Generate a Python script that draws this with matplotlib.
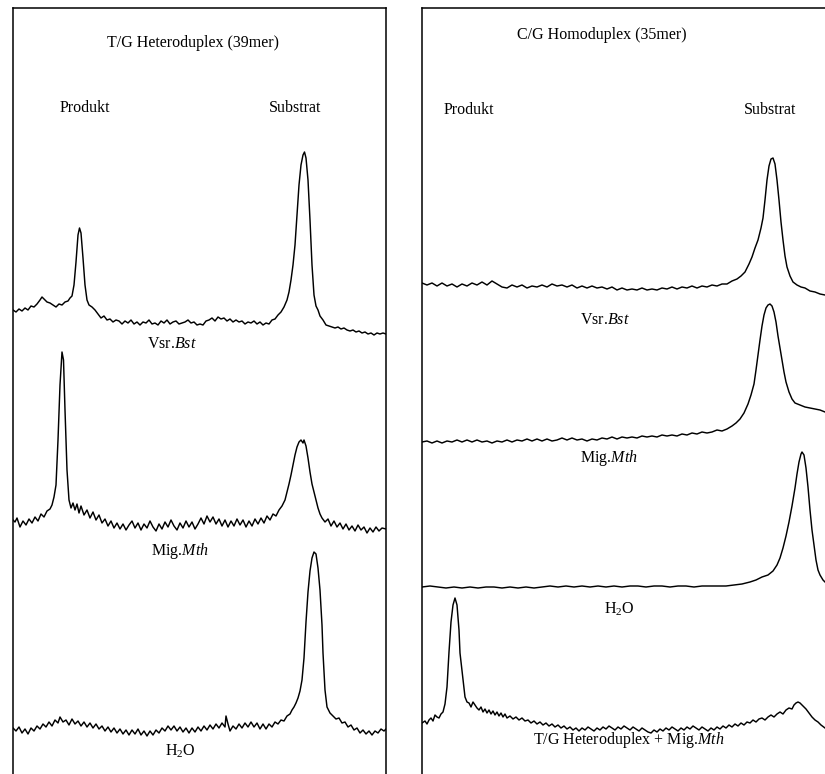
import numpy as np
import matplotlib
matplotlib.use("Agg")
import matplotlib.pyplot as plt

plt.rcParams['font.family'] = ['Liberation Serif', 'DejaVu Serif']
plt.rcParams['mathtext.fontset'] = 'custom'
plt.rcParams['mathtext.rm'] = 'Liberation Serif'
plt.rcParams['mathtext.it'] = 'Liberation Serif:italic'

# chromatogram traces: (scan, signal above baseline)
# left panel: T/G heteroduplex (39mer)
tg_vsr = [(0,10),(3,8),(6,11),(9,9),(12,12),(15,10),(18,14),(21,13),(24,16),(27,20),(29,23),(31,21),
          (34,18),(37,17),(40,15),(43,13),(46,16),(49,15),(52,18),(55,19),(57,22),(59,24),(61,35),(63,58),
          (65,85),(66.5,92),(68,87),(70,62),(72,35),(74,20),(76,15),(79,13),(82,10),(85,6),(88,2),(91,4),
          (94,0),(97,1),(100,-2),(103,0),(106,-1),(109,-4),(112,-1),(115,-3),(118,0),(121,-4),(124,-2),
          (127,-5),(130,-2),(133,-3),(136,0),(139,-4),(142,-3),(145,-5),(148,-1),(151,-3),(154,0),(157,-4),
          (160,-2),(163,-1),(166,-4),(169,-3),(172,-2),(175,0),(178,-3),(181,-2),(184,-5),(187,-4),(190,-5),
          (193,-1),(196,0),(199,2),(202,-1),(205,3),(208,1),(211,2),(214,-1),(217,1),(220,-2),(223,0),
          (226,-2),(229,-1),(232,-4),(235,-2),(238,-3),(241,-1),(244,-4),(247,-2),(250,-5),(253,-3),(256,-4),
          (259,0),(262,1),(265,5),(268,8),(271,13),(274,20),(276,28),(278,40),(280,55),(282,75),(284,105),
          (286,135),(288,155),(290,165),(291.5,168),(293,162),(295,140),(297,100),(299,55),(301,25),(303,14),
          (305,10),(307,4),(310,0),(313,-5),(316,-6),(319,-7),(322,-8),(325,-7),(328,-9),(331,-8),(334,-10),
          (337,-11),(340,-10),(343,-12),(346,-11),(349,-13),(352,-12),(355,-14),(358,-13),(361,-15),(364,-13),
          (367,-14),(370,-13),(373,-14)]

tg_mig = [(0,5),(2,3),(4,7),(7,-2),(10,4),(13,0),(16,6),(19,2),(22,8),(25,4),(28,11),(31,8),(34,14),(37,16),
          (39,20),(41,28),(43,40),(45,85),(47,140),(49,173),(50.5,165),(52,115),(54,55),(56,25),(58,17),(60,22),
          (62,15),(64,21),(66,12),(68,19),(71,10),(74,15),(77,7),(80,13),(83,5),(86,10),(89,2),(92,6),(95,-1),
          (98,4),(101,-3),(104,2),(107,-4),(110,1),(113,-5),(116,0),(119,4),(122,-3),(125,2),(128,-5),(131,1),
          (134,-3),(137,4),(140,-2),(143,-6),(146,1),(149,-4),(152,3),(155,-2),(158,5),(161,-1),(164,-5),
          (167,2),(170,-3),(173,4),(176,-2),(179,3),(182,-4),(185,1),(188,7),(191,1),(194,9),(197,3),(200,8),
          (203,1),(206,6),(209,-1),(212,5),(215,-2),(218,4),(221,-1),(224,6),(227,0),(230,5),(233,-2),(236,4),
          (239,-1),(242,6),(245,1),(248,7),(251,2),(254,9),(257,5),(260,11),(263,9),(266,15),(269,19),(272,25),
          (274,33),(276,41),(278,50),(280,60),(282,70),(284,78),(286,83),(288,85),(290,82),(291,85),(293,79),
          (295,67),(297,53),(299,41),(301,33),(303,25),(305,17),(307,11),(309,7),(312,3),(315,6),(318,-1),
          (321,4),(324,-2),(327,2),(330,-4),(333,1),(336,-5),(339,-1),(342,-6),(345,0),(348,-5),(351,-2),
          (354,-8),(357,-3),(360,-7),(363,-2),(366,-6),(369,-3),(373,-4)]

tg_h2o = [(0,0),(3,-3),(6,1),(9,-5),(12,-1),(15,-6),(18,0),(21,-3),(24,2),(27,-1),(30,4),(33,1),(36,6),(39,2),
          (42,8),(45,5),(47,11),(50,6),(53,8),(56,3),(59,9),(62,4),(65,7),(68,2),(71,6),(74,1),(77,5),(80,0),
          (83,4),(86,-1),(89,2),(92,-3),(95,1),(98,-4),(101,0),(104,-5),(107,-1),(110,-6),(113,-2),(116,-7),
          (119,-2),(122,-6),(125,-1),(128,-7),(131,-3),(134,-8),(137,-3),(140,-7),(143,-2),(146,-5),(149,0),
          (152,-3),(155,2),(158,-2),(161,2),(164,-3),(167,1),(170,-4),(173,0),(176,-5),(179,0),(182,-4),(185,1),
          (188,-3),(191,2),(194,-2),(197,3),(200,-1),(203,4),(206,0),(209,5),(212,1),(213,12),(215,4),(217,-3),
          (220,2),(223,-1),(226,4),(229,0),(232,5),(235,1),(238,6),(241,1),(244,5),(247,-1),(250,4),(253,-1),
          (256,4),(259,1),(262,6),(265,4),(268,8),(271,7),(274,12),(277,14),(279,18),(281,21),(283,25),(285,30),
          (287,37),(289,48),(291,70),(293,106),(295,136),(297,157),(299,170),(301,176),(303,174),(305,160),
          (307,138),(309,103),(310,75),(312,38),(314,21),(317,15),(320,12),(323,9),(326,10),(329,5),(332,6),
          (335,1),(338,3),(341,-2),(344,0),(347,-5),(350,-2),(353,-6),(356,-3),(359,-7),(362,-3),(365,-5),
          (368,-1),(371,-3),(373,-1)]

# right panel: C/G homoduplex (35mer)
cg_vsr = [(0,2),(5,0),(10,2),(15,-1),(20,2),(25,-1),(30,1),(35,-2),(40,1),(45,-1),(50,2),(55,0),(60,3),(65,0),
          (70,4),(75,1),(80,-2),(85,-3),(90,0),(95,-2),(100,0),(105,-3),(110,-1),(115,-2),(120,0),(125,-2),
          (130,1),(135,-1),(140,0),(145,-2),(150,0),(155,-3),(160,-1),(165,-3),(170,-1),(175,-3),(180,-2),
          (185,-4),(190,-2),(195,-5),(200,-3),(205,-5),(210,-4),(215,-5),(220,-3),(225,-5),(230,-4),(235,-5),
          (240,-3),(245,-4),(250,-2),(255,-4),(260,-2),(265,-3),(270,-1),(275,-3),(280,-1),(285,-2),(290,0),
          (295,-1),(300,1),(305,1),(310,4),(315,6),(319,9),(323,13),(327,21),(330,28),(333,37),(336,45),
          (339,57),(341,67),(343,85),(345,105),(347,119),(349,126),(351,127),(353,121),(355,105),(357,85),
          (359,63),(361,45),(363,29),(365,18),(368,9),(371,3),(375,0),(379,-2),(383,-3),(388,-6),(393,-7),
          (398,-9),(403,-10)]

cg_mig = [(0,-2),(5,-1),(10,-3),(15,-1),(20,-3),(25,-1),(30,-2),(35,0),(40,-2),(45,0),(50,-2),(55,0),(60,-2),
          (65,-1),(70,-3),(75,-1),(80,-2),(85,0),(90,-2),(95,0),(100,-1),(105,1),(110,-1),(115,1),(120,-1),
          (125,1),(130,-1),(135,0),(140,2),(145,0),(150,2),(155,0),(160,1),(165,-1),(170,1),(175,0),(180,2),
          (185,1),(190,3),(195,1),(200,3),(205,2),(210,3),(215,2),(220,4),(225,3),(230,4),(235,3),(240,5),
          (245,4),(250,5),(255,4),(260,6),(265,5),(270,7),(275,6),(280,8),(285,7),(290,8),(295,10),(300,9),
          (305,11),(310,14),(314,17),(318,21),(322,27),(326,36),(329,45),(332,56),(334,70),(336,85),(338,100),
          (340,114),(342,125),(344,132),(346,135),(348,136),(350,134),(352,128),(354,118),(356,104),(358,92),
          (360,80),(362,68),(364,58),(367,48),(370,41),(373,37),(378,35),(383,33),(388,32),(393,31),(398,30),
          (403,28)]

cg_h2o = [(0,-1),(8,0),(16,-1),(24,-2),(32,-1),(40,-2),(48,-1),(56,-2),(64,-1),(72,-1),(80,-2),(88,-1),
          (96,-2),(104,-1),(112,-2),(120,-1),(128,0),(136,-1),(144,0),(152,-1),(160,0),(168,-1),(176,0),
          (184,-1),(192,0),(200,-1),(208,0),(216,0),(224,-1),(232,0),(240,0),(248,-1),(256,0),(264,0),
          (272,-1),(280,0),(288,0),(296,0),(304,0),(312,1),(320,2),(328,4),(334,6),(340,9),(346,11),(351,15),
          (355,21),(358,28),(361,38),(364,50),(367,64),(370,80),(373,98),(375,112),(377,124),(379,132),
          (380,134),(382,131),(384,118),(386,99),(388,76),(390,56),(392,41),(394,26),(396,16),(398,11),
          (401,6),(403,4)]

cg_tg_mig = [(0,-1),(3,1),(5,-2),(7,2),(9,4),(11,1),(13,7),(15,5),(17,4),(19,8),(21,10),(23,18),(25,35),
             (27,70),(29,100),(31,117),(33,124),(35,117),(37,92),(38,69),(41,42),(43,25),(45,20),(47,19),
             (49,15),(51,20),(53,17),(55,14),(57,12),(59,15),(61,10),(63,13),(65,9),(67,12),(69,8),(71,11),
             (73,7),(75,10),(77,6),(79,9),(81,5),(83,8),(85,4),(88,6),(91,3),(94,5),(97,2),(100,4),(103,1),
             (106,2),(109,-1),(112,1),(115,-2),(118,0),(121,-3),(124,-1),(127,-4),(130,-2),(133,-5),(136,-3),
             (139,-6),(142,-4),(145,-7),(148,-5),(151,-8),(154,-6),(157,-9),(160,-6),(163,-8),(166,-5),
             (169,-7),(172,-9),(175,-6),(178,-8),(181,-5),(184,-7),(187,-4),(190,-6),(193,-8),(196,-5),
             (199,-7),(202,-4),(205,-6),(208,-8),(211,-5),(214,-7),(217,-9),(220,-6),(223,-8),(226,-10),
             (229,-11),(232,-8),(235,-10),(238,-7),(241,-9),(244,-6),(247,-8),(250,-5),(253,-7),(256,-9),
             (259,-6),(262,-8),(265,-5),(268,-7),(271,-4),(274,-6),(277,-8),(280,-5),(283,-7),(286,-9),
             (289,-6),(292,-8),(295,-5),(298,-7),(301,-4),(304,-6),(307,-3),(310,-5),(313,-2),(316,-4),
             (319,-1),(322,-3),(325,0),(328,-1),(331,2),(334,0),(337,3),(340,4),(343,2),(346,5),(349,7),
             (352,5),(355,8),(358,10),(361,8),(364,12),(367,14),(370,13),(372,17),(374,19),(376,20),(378,19),
             (380,17),(382,15),(384,13),(387,9),(390,5),(393,2),(396,0),(399,-3),(403,-6)]

left_traces = [tg_vsr, tg_mig, tg_h2o]
left_labels = [r'Vsr.$\mathit{Bst}$', r'Mig.$\mathit{Mth}$', r'H$_2$O']
right_traces = [cg_vsr, cg_mig, cg_h2o, cg_tg_mig]
right_labels = [r'Vsr.$\mathit{Bst}$', r'Mig.$\mathit{Mth}$', r'H$_2$O',
                r'T/G Heteroduplex + Mig.$\mathit{Mth}$']

# layout (figure pixels)
W, H = 825, 774
left_off = [460, 255, 52]
left_lab = [(159, 436), (167, 229), (167, 29)]
right_off = [495, 340, 194, 58]
right_lab = [(183, 460), (187, 322), (197, 171), (207, 40)]

fig = plt.figure(figsize=(W / 100, H / 100), dpi=100)
ax1 = fig.add_axes([13 / W, -6 / H, 373 / W, 772.5 / H])
ax2 = fig.add_axes([422 / W, -6 / H, 408 / W, 772.5 / H])
ax1.set_xlim(0, 373)
ax2.set_xlim(0, 408)

fs = 11.5
for ax in (ax1, ax2):
    ax.set_ylim(0, 772.5)
    ax.set_xticks([])
    ax.set_yticks([])
    for s in ax.spines.values():
        s.set_linewidth(1.1)

for tr, off, lab, pos in zip(left_traces, left_off, left_labels, left_lab):
    t, y = np.array(tr).T
    ax1.plot(t, y + off, color='black', lw=1.05)
    ax1.text(pos[0], pos[1], lab, ha='center', va='center', fontsize=fs)

for tr, off, lab, pos in zip(right_traces, right_off, right_labels, right_lab):
    t, y = np.array(tr).T
    ax2.plot(t, y + off, color='black', lw=1.05)
    ax2.text(pos[0], pos[1], lab, ha='center', va='center', fontsize=fs)

ax1.text(180, 737, 'T/G Heteroduplex (39mer)', ha='center', va='center', fontsize=fs)
ax1.text(72, 672, 'Produkt', ha='center', va='center', fontsize=fs)
ax1.text(282, 672, 'Substrat', ha='center', va='center', fontsize=fs)
ax2.text(180, 745, 'C/G Homoduplex (35mer)', ha='center', va='center', fontsize=fs)
ax2.text(47, 670, 'Produkt', ha='center', va='center', fontsize=fs)
ax2.text(348, 670, 'Substrat', ha='center', va='center', fontsize=fs)

fig.savefig('out.png', dpi=100)
